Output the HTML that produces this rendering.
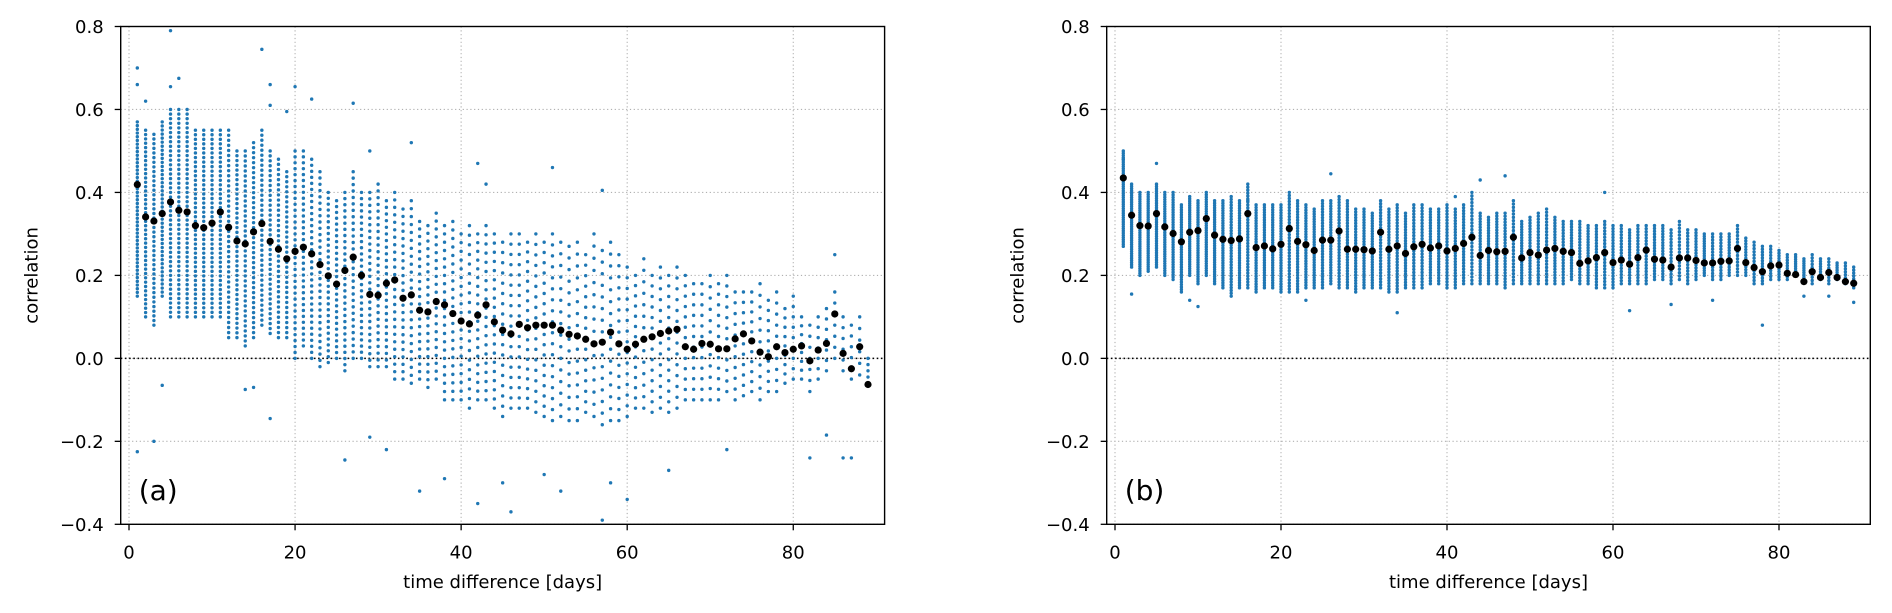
<!DOCTYPE html>
<html><head><meta charset="utf-8"><title>Correlation vs time difference</title>
<style>
html,body{margin:0;padding:0;background:#fff;}
svg{display:block;font-family:"DejaVu Sans","Liberation Sans",sans-serif;}
</style></head>
<body>
<svg id="fig" width="1892" height="613" viewBox="0 0 1892 613" xmlns="http://www.w3.org/2000/svg"></svg>
<script>
// ---------- data ----------
const days = Array.from({length:89},(_,i)=>i+1);
const xTicks = [0,20,40,60,80];
const yTicks = [-0.4,-0.2,0.0,0.2,0.4,0.6,0.8];
const yTickLabels = ["\u22120.4","\u22120.2","0.0","0.2","0.4","0.6","0.8"];

const meanA = [0.419,0.341,0.331,0.349,0.377,0.357,0.353,0.320,0.315,0.326,
0.353,0.316,0.283,0.276,0.305,0.325,0.282,0.263,0.240,0.258,
0.268,0.252,0.226,0.199,0.179,0.212,0.244,0.200,0.154,0.152,
0.181,0.189,0.145,0.153,0.116,0.112,0.137,0.129,0.108,0.090,
0.083,0.104,0.129,0.088,0.068,0.059,0.082,0.074,0.080,0.080,
0.080,0.068,0.058,0.054,0.046,0.035,0.039,0.063,0.035,0.022,
0.034,0.046,0.052,0.060,0.066,0.070,0.028,0.022,0.036,0.034,
0.023,0.023,0.047,0.059,0.042,0.015,0.004,0.028,0.014,0.022,
0.030,-0.006,0.020,0.036,0.107,0.012,-0.025,0.028,-0.063];
const loA = [0.15,0.1,0.08,0.15,0.1,0.1,0.1,0.1,0.1,0.1,
0.1,0.05,0.05,0.03,0.05,0.08,0.06,0.05,0.05,0.0,
0.03,0.0,-0.02,-0.01,0.0,-0.03,0.0,0.0,-0.02,-0.02,
-0.02,-0.05,-0.05,-0.06,-0.05,-0.07,-0.05,-0.1,-0.1,-0.1,
-0.12,-0.1,-0.1,-0.12,-0.14,-0.12,-0.12,-0.12,-0.13,-0.14,
-0.15,-0.14,-0.15,-0.15,-0.13,-0.14,-0.16,-0.15,-0.15,-0.14,
-0.12,-0.12,-0.13,-0.12,-0.13,-0.12,-0.1,-0.1,-0.1,-0.1,
-0.1,-0.08,-0.1,-0.09,-0.08,-0.1,-0.08,-0.08,-0.06,-0.05,
-0.05,-0.08,-0.05,-0.03,0.0,-0.03,-0.05,-0.04,-0.06];
const hiA = [0.57,0.55,0.54,0.57,0.6,0.6,0.6,0.55,0.55,0.55,
0.55,0.55,0.5,0.5,0.52,0.55,0.5,0.48,0.45,0.5,
0.5,0.48,0.45,0.4,0.38,0.4,0.45,0.4,0.4,0.42,
0.38,0.4,0.36,0.38,0.33,0.32,0.35,0.32,0.33,0.3,
0.32,0.3,0.32,0.3,0.28,0.3,0.3,0.28,0.3,0.28,
0.3,0.28,0.27,0.28,0.25,0.3,0.26,0.28,0.25,0.22,
0.2,0.24,0.2,0.22,0.2,0.22,0.2,0.18,0.18,0.2,
0.18,0.2,0.16,0.16,0.16,0.18,0.14,0.16,0.12,0.15,
0.1,0.08,0.1,0.12,0.16,0.1,0.08,0.1,0.0];
const countA = [48,44,42,44,46,46,46,42,42,42,
42,42,40,40,40,40,38,36,34,36,
34,34,32,30,28,30,30,28,28,28,
26,26,24,24,22,22,22,22,22,20,
20,20,20,20,18,18,18,18,18,18,
18,16,16,16,16,16,16,16,16,15,
14,14,14,14,14,14,13,12,12,12,
12,12,11,11,11,11,10,10,9,9,
8,7,7,7,7,6,6,6,5];
const outA = [[5,0.79],[16,0.745],[17,0.66],[6,0.675],[5,0.655],[1,0.7],[2,0.62],[1,0.66],[27,0.615],[22,0.625],[20,0.655],[19,0.595],[17,0.61],[34,0.52],[29,0.5],[42,0.47],[51,0.46],[57,0.405],[43,0.42],[85,0.25],[1,-0.225],[3,-0.2],[4,-0.065],[14,-0.075],[15,-0.07],[17,-0.145],[26,-0.245],[29,-0.19],[31,-0.22],[35,-0.32],[42,-0.35],[46,-0.37],[52,-0.32],[57,-0.39],[58,-0.3],[60,-0.34],[65,-0.27],[72,-0.22],[82,-0.24],[84,-0.185],[86,-0.24],[87,-0.24],[45,-0.3],[50,-0.28],[38,-0.29]];

const meanB = [0.435,0.345,0.320,0.319,0.349,0.317,0.301,0.281,0.304,0.308,
0.337,0.297,0.287,0.284,0.288,0.349,0.267,0.271,0.264,0.275,
0.313,0.282,0.274,0.260,0.285,0.285,0.307,0.263,0.263,0.262,
0.259,0.304,0.263,0.271,0.253,0.269,0.275,0.266,0.271,0.259,
0.265,0.277,0.292,0.248,0.260,0.257,0.258,0.292,0.242,0.255,
0.249,0.261,0.265,0.258,0.255,0.229,0.235,0.243,0.255,0.231,
0.237,0.227,0.243,0.261,0.239,0.237,0.220,0.242,0.242,0.236,
0.230,0.230,0.234,0.235,0.265,0.231,0.219,0.209,0.223,0.225,
0.205,0.202,0.185,0.209,0.195,0.207,0.195,0.185,0.181];
const loB = [0.27,0.22,0.2,0.21,0.22,0.2,0.19,0.16,0.2,0.18,
0.2,0.18,0.17,0.15,0.17,0.17,0.16,0.17,0.17,0.16,
0.16,0.16,0.17,0.17,0.17,0.18,0.17,0.17,0.16,0.17,
0.17,0.17,0.16,0.16,0.17,0.17,0.17,0.18,0.18,0.17,
0.17,0.18,0.18,0.18,0.18,0.18,0.17,0.18,0.18,0.18,
0.18,0.18,0.18,0.18,0.19,0.18,0.18,0.17,0.17,0.17,
0.18,0.18,0.18,0.18,0.19,0.19,0.18,0.19,0.18,0.19,
0.2,0.19,0.19,0.2,0.2,0.2,0.18,0.18,0.19,0.19,
0.19,0.2,0.19,0.18,0.19,0.18,0.19,0.18,0.17];
const hiB = [0.5,0.42,0.4,0.4,0.42,0.4,0.4,0.37,0.39,0.38,
0.4,0.38,0.38,0.39,0.38,0.42,0.37,0.37,0.37,0.37,
0.4,0.38,0.37,0.36,0.38,0.38,0.39,0.38,0.36,0.36,
0.35,0.38,0.36,0.37,0.35,0.37,0.37,0.36,0.36,0.37,
0.36,0.37,0.4,0.35,0.34,0.35,0.35,0.38,0.33,0.34,
0.35,0.36,0.34,0.33,0.33,0.33,0.32,0.32,0.33,0.32,
0.32,0.31,0.32,0.32,0.32,0.32,0.31,0.33,0.31,0.31,
0.3,0.3,0.3,0.3,0.32,0.29,0.28,0.27,0.27,0.26,
0.25,0.25,0.24,0.25,0.24,0.24,0.23,0.23,0.22];
const countB = [44,38,38,36,36,36,36,36,36,36,
36,36,36,36,36,36,34,34,34,34,
34,34,32,32,32,32,32,32,30,30,
30,30,30,30,28,28,28,28,28,28,
28,28,28,26,26,26,26,26,24,24,
24,24,24,22,22,22,22,22,22,22,
20,20,20,20,20,20,18,18,18,18,
18,16,16,16,16,14,14,14,12,12,
10,10,10,10,9,9,8,8,8];
const outB = [[2,0.155],[10,0.125],[9,0.14],[1,0.48],[5,0.47],[16,0.38],[26,0.445],[44,0.43],[47,0.44],[59,0.4],[41,0.39],[62,0.115],[67,0.13],[78,0.08],[72,0.14],[34,0.11],[23,0.14],[86,0.15],[89,0.135],[83,0.15]];

// ---------- drawing ----------
const NS = "http://www.w3.org/2000/svg";
const svg = document.getElementById('fig');
function mk(tag, attrs, parent){
  const e = document.createElementNS(NS, tag);
  for (const k in attrs) e.setAttribute(k, attrs[k]);
  (parent||svg).appendChild(e);
  return e;
}
const X0 = -1, X1 = 91, Y0 = -0.4, Y1 = 0.8;
const TOP = 26.5, BOT = 524.3;

function drawPanel(left, right, tag, means, lo, hi, counts, outs, letter){
  const sx = v => left + (v - X0) / (X1 - X0) * (right - left);
  const sy = v => BOT - (v - Y0) / (Y1 - Y0) * (BOT - TOP);
  const g = mk('g', {});
  
  

  // grid
  const grid = mk('g', {stroke:'#b0b0b0','stroke-width':1.1,'stroke-dasharray':'1.2,2.6'}, g);
  
  
  xTicks.forEach(t => mk('line', {x1:sx(t),x2:sx(t),y1:TOP,y2:BOT}, grid));
  yTicks.forEach(t => mk('line', {x1:left,x2:right,y1:sy(t),y2:sy(t)}, grid));

  // zero line
  const z = mk('line', {x1:left,x2:right,y1:sy(0),y2:sy(0),stroke:'#000','stroke-width':1.6,'stroke-dasharray':'1.6,2.6'}, g);
  
  

  // scatter
  const sc = mk('g', {fill:'#1f77b4'}, g);
  
  
  days.forEach((d, i) => {
    const n = counts[i];
    for (let k = 0; k < n; k++) {
      const v = lo[i] + (hi[i] - lo[i]) * k / (n - 1);
      mk('circle', {cx:sx(d), cy:sy(v), r:1.7}, sc);
    }
  });
  outs.forEach(p => mk('circle', {cx:sx(p[0]), cy:sy(p[1]), r:1.7}, sc));

  // means
  const mg = mk('g', {fill:'#000'}, g);
  
  
  days.forEach((d, i) => mk('circle', {cx:sx(d), cy:sy(means[i]), r:3.6}, mg));

  // spines
  const sp = mk('rect', {x:left,y:TOP,width:right-left,height:BOT-TOP,fill:'none',stroke:'#000','stroke-width':1.4}, g);
  
  

  // ticks + labels
  const tl = mk('g', {'font-size':'18px',fill:'#000'}, g);
  
  
  xTicks.forEach(t => {
    mk('line', {x1:sx(t),x2:sx(t),y1:BOT,y2:BOT+6,stroke:'#000','stroke-width':1.3}, g);
    const tx = mk('text', {x:sx(t), y:BOT+34, 'text-anchor':'middle'}, tl);
    tx.textContent = String(t);
  });
  yTicks.forEach((t, i) => {
    mk('line', {x1:left-6,x2:left,y1:sy(t),y2:sy(t),stroke:'#000','stroke-width':1.3}, g);
    const ty = mk('text', {x:left-17, y:sy(t)+6.5, 'text-anchor':'end'}, tl);
    ty.textContent = yTickLabels[i];
  });

  const xl = mk('text', {x:(left+right)/2, y:588, 'text-anchor':'middle','font-size':'18px'}, g);
  xl.textContent = 'time difference [days]';
  
  

  const cy = (TOP + BOT) / 2;
  const yl = mk('text', {x:left-83, y:cy, 'text-anchor':'middle','font-size':'18px', transform:'rotate(-90 ' + (left-83) + ' ' + cy + ')'}, g);
  yl.textContent = 'correlation';
  
  

  const pl = mk('text', {x:left+18, y:500, 'font-size':'28px'}, g);
  pl.textContent = letter;
  
  
}

drawPanel(120.7, 884.6, 'a', meanA, loA, hiA, countA, outA, '(a)');
drawPanel(1106.7, 1870.3, 'b', meanB, loB, hiB, countB, outB, '(b)');
</script>
</body></html>
